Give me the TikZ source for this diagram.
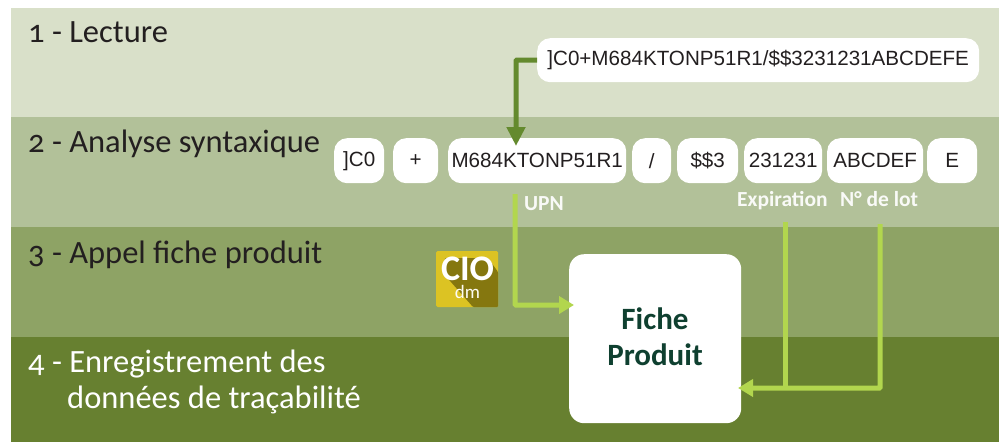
\documentclass[tikz,border=0pt]{standalone}
\usepackage{fontspec}
\setmainfont[Numbers=OldStyle]{Carlito}
\newfontfamily\arialf{Liberation Sans}
\usetikzlibrary{arrows.meta}
\definecolor{bandA}{HTML}{D9E0C9}
\definecolor{bandB}{HTML}{B2C199}
\definecolor{bandC}{HTML}{8EA365}
\definecolor{bandD}{HTML}{678030}
\definecolor{darkarrow}{HTML}{648A2E}
\definecolor{lightarrow}{HTML}{B2D64E}
\definecolor{darktext}{HTML}{231F20}
\definecolor{ficheText}{HTML}{0F4030}
\definecolor{iconY}{HTML}{DCC323}
\definecolor{iconD}{HTML}{85770F}
\tikzset{
  x=1pt,y=-1pt,
  bandbox/.style={fill=#1,draw=none},
  codebox/.style={fill=white,rounded corners=13pt,inner sep=0pt,anchor=north west,font=\arialf\fontsize{20.6}{22}\selectfont,text=darktext,align=center},
  steplabel/.style={anchor=base west,inner sep=0pt,font=\fontsize{32.5}{37}\selectfont,text=#1},
  fieldlabel/.style={anchor=base west,inner sep=0pt,font=\bfseries\fontsize{21.5}{22}\selectfont,text=white!92!bandB},
  darkline/.style={draw=darkarrow,line width=5pt,rounded corners=0.8pt,-{Triangle[length=19pt,width=18pt]}},
  lightline/.style={draw=lightarrow,line width=5pt,rounded corners=0.8pt},
  lightarrowline/.style={lightline,-{Triangle[length=15pt,width=17pt]}},
}
\begin{document}
\begin{tikzpicture}
\useasboundingbox (0,0) rectangle (1003,442);
\fill[white] (0,0) rectangle (1003,442);
\path[bandbox=bandA] (11,8) rectangle (999,117);
\path[bandbox=bandB] (11,117) rectangle (999,227);
\path[bandbox=bandC] (11,227) rectangle (999,337);
\path[bandbox=bandD] (11,337) rectangle (999,442);
\node[steplabel=darktext] (s1) at (28,42) {1 - Lecture};
\node[steplabel=darktext] (s2) at (28,152.5) {2 - Analyse syntaxique};
\node[steplabel=darktext] (s3) at (28,263) {3 - Appel fiche produit};
\node[steplabel=white] (s4) at (28,372) {4 - Enregistrement des};
\node[steplabel=white] (s4b) at (67,408.5) {données de traçabilité};
\node[codebox,minimum width=442pt,minimum height=44pt] (full) at (537,38) {]C0+M684KTONP51R1/\$\$3231231ABCDEFE};
\node[codebox,minimum width=50pt,minimum height=45pt] (a) at (334,138) {]C0};
\node[codebox,minimum width=45pt,minimum height=45pt] (b) at (393,138) {+};
\node[codebox,minimum width=178pt,minimum height=45pt] (c) at (448,138) {M684KTONP51R1};
\node[codebox,minimum width=39pt,minimum height=45pt] (d) at (632,138) {/};
\node[codebox,minimum width=61pt,minimum height=45pt] (e) at (677,138) {\$\$3};
\node[codebox,minimum width=78pt,minimum height=45pt] (f) at (744,138) {231231};
\node[codebox,minimum width=96pt,minimum height=45pt] (g) at (827,138) {ABCDEF};
\node[codebox,minimum width=50pt,minimum height=45pt] (h) at (927,138) {E};
\node[fieldlabel] (upn) at (524,210) {UPN};
\node[fieldlabel] (exp) at (737,206) {Expiration};
\node[fieldlabel] (lot) at (840,206) {N° de lot};
\node[fill=white,rounded corners=15pt,inner sep=0pt,anchor=north west,minimum width=172pt,minimum height=169pt] (fiche) at (569,254) {};
\node[inner sep=0pt,anchor=base,text=ficheText,font=\bfseries\fontsize{31}{36}\selectfont] (ficheA) at (655,329) {Fiche};
\node[inner sep=0pt,anchor=base,text=ficheText,font=\bfseries\fontsize{31}{36}\selectfont] (ficheB) at (655,365) {Produit};
% icon
\fill[iconY,rounded corners=1.5pt] (436,251) rectangle (498,307);
\fill[iconD,rounded corners=1pt] (443,273) -- (473,307) -- (498,307) -- (498,272) -- (488,258) -- (445,258) -- cycle;
\node[inner sep=0pt,anchor=base,text=white,font=\bfseries\fontsize{36}{36}\selectfont] (cio) at (467.5,280) {CIO};
\node[inner sep=0pt,anchor=base,text=white!95!iconY,font=\fontsize{19}{19}\selectfont] (dm) at (467.5,298) {dm};
% connectors
\coordinate (dtip) at (516,146);
\coordinate (upnstart) at (515,194);
\coordinate (upntip) at (574,305);
\coordinate (expstart) at (785,222);
\coordinate (lotstart) at (880,224);
\coordinate (lottip) at (738,388);
\draw[darkline] (full.west |- 0,60) -| (dtip);
\draw[lightarrowline] (upnstart) |- (upntip);
\draw[lightline] (expstart) -- (expstart |- lottip);
\draw[lightarrowline] (lotstart) |- (lottip);
\end{tikzpicture}
\end{document}
